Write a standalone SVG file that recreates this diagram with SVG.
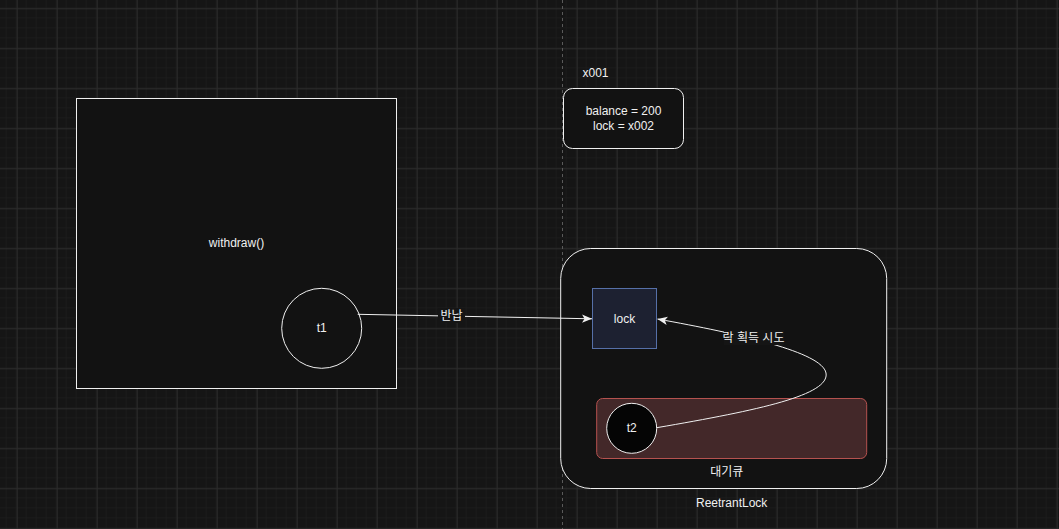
<svg xmlns="http://www.w3.org/2000/svg" width="1059" height="529" viewBox="0 0 1059 529">
<defs>
<pattern id="minor" width="10" height="10" patternUnits="userSpaceOnUse" x="6.7" y="8.3">
<path d="M10 0V10M0 10H10" fill="none" stroke="#1f1f1f" stroke-width="1"/>
</pattern>
<pattern id="major" width="40" height="40" patternUnits="userSpaceOnUse" x="16.7" y="8.3">
<path d="M0.5 0V40M0 0.5H40" fill="none" stroke="#2c2c2c" stroke-width="1"/>
</pattern>
<marker id="arr" viewBox="0 0 10 10" refX="10" refY="5" markerWidth="10" markerHeight="10" markerUnits="userSpaceOnUse" orient="auto">
<path d="M0,0.8 L10,5 L0,9.2 L2.5,5 Z" fill="#f0f0f0"/>
</marker>
<style>
.t{font-family:"Liberation Sans","Noto Sans CJK KR",sans-serif;font-size:12px;fill:#f0f0f0;text-anchor:middle;dominant-baseline:central}
.n{fill:#121212;stroke:#f0f0f0;stroke-width:1}
.e{fill:none;stroke:#f0f0f0;stroke-width:1}
.lbl{fill:#151515}
</style>
</defs>
<rect width="1059" height="529" fill="#151515"/>
<rect width="1059" height="529" fill="url(#minor)"/>
<rect width="1059" height="529" fill="url(#major)"/>
<line x1="562.5" y1="0" x2="562.5" y2="529" stroke="#5a5a5a" stroke-width="1" stroke-dasharray="3 3"/>

<g id="withdraw">
<rect class="n" x="76.5" y="98.5" width="320" height="290" fill="#131313"/>
<text class="t" x="236.5" y="243">withdraw()</text>
</g>
<g id="t1">
<circle class="n" cx="321.7" cy="328.3" r="40"/>
<text class="t" x="321.7" y="328.3">t1</text>
</g>
<g id="x001">
<text class="t" x="595.5" y="73">x001</text>
</g>
<g id="obj">
<rect class="n" x="563.5" y="88.5" width="120" height="60" rx="9"/>
<text class="t" x="623.5" y="110.5">balance = 200</text>
<text class="t" x="623.5" y="125.5">lock = x002</text>
</g>
<g id="reentrantlock">
<rect class="n" x="560.7" y="248.5" width="326" height="240" rx="30"/>
<text class="t" x="731.7" y="503">ReetrantLock</text>
</g>
<g id="lock">
<rect x="592.5" y="288.5" width="64" height="60" fill="#1d2131" stroke="#5670a8" stroke-width="1"/>
<text class="t" x="624.5" y="318.5">lock</text>
</g>
<g id="queue">
<rect x="596.7" y="398.5" width="270" height="60" rx="6" fill="#432829" stroke="#b5524f" stroke-width="1"/>
<text class="t" x="726.7" y="472">대기큐</text>
</g>
<g id="t2">
<circle cx="631.7" cy="428.3" r="25" fill="#050505" stroke="#f0f0f0" stroke-width="1"/>
<text class="t" x="631.7" y="428.3">t2</text>
</g>

<g id="connectors">
<path class="e" d="M357.7,314.3 L592,318.8" marker-end="url(#arr)"/>
<rect class="lbl" x="438" y="308" width="27" height="15"/>
<text class="t" x="451.5" y="315.5">반납</text>
<path class="e" d="M656.7,427.7 C760,410 830,395 826,373 C822,352 740,334 657.5,319" marker-end="url(#arr)"/>
<rect class="lbl" x="724" y="330" width="60" height="15"/>
<text class="t" x="753.5" y="337.5">락 획득 시도</text>
</g>
</svg>
